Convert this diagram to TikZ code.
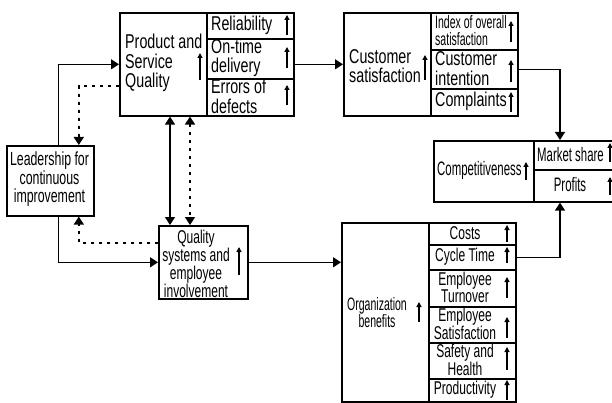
\documentclass[tikz,border=0pt]{standalone}
\usepackage{fontspec}
\setmainfont{Liberation Sans}[FakeStretch=0.715]
\newfontfamily\condA{Liberation Sans}[FakeStretch=0.65]
\newfontfamily\condB{Liberation Sans}[FakeStretch=0.585]
\usepackage{tikz}
\usetikzlibrary{arrows.meta}

\newcommand\bigtxt{\fontsize{20}{19.5}\selectfont}
\newcommand\midtxt{\condA\fontsize{19}{17.5}\selectfont}
\newcommand\qtxt{\condA\fontsize{18.5}{15}\selectfont}
\newcommand\coltxt{\condA\fontsize{18.5}{15.5}\selectfont}
\newcommand\cmptxt{\condB\fontsize{19.5}{17}\selectfont}
\newcommand\idxtxt{\condB\fontsize{18}{17}\selectfont}

\tikzset{
  box/.style={draw, line width=1.6pt, anchor=north west, inner sep=0pt},
  txt/.style={inner sep=0pt, align=left},
  ctxt/.style={inner sep=0pt, align=center},
  conn/.style={line width=1.3pt, -{Triangle[length=8pt,width=10pt]}},
  conntwo/.style={line width=1.3pt, {Triangle[length=8pt,width=10pt]}-{Triangle[length=8pt,width=10pt]}},
  dots/.style={line width=1.6pt, dash pattern=on 3pt off 5pt},
  uparr/.style={line width=1.3pt, -{Triangle[length=5pt,width=5pt]}}
}

\begin{document}
\begin{tikzpicture}[x=1pt,y=-1pt]

\useasboundingbox (0,0) rectangle (612,403);

% main boxes
\node[box, minimum width=174pt, minimum height=103pt] (psq) at (119,12) {};
\node[box, minimum width=174pt, minimum height=103pt] (cs) at (343,12) {};
\node[box, minimum width=181pt, minimum height=61pt] (cmp) at (433,140) {};
\node[box, minimum width=174pt, minimum height=179pt] (ob) at (341,222) {};
\node[box, minimum width=87pt, minimum height=70pt] (lcl) at (6,145) {};
\node[box, minimum width=89pt, minimum height=73pt] (qse) at (158,225) {};

% cells
\node[box, minimum width=87pt, minimum height=26pt] (rel) at (206,12) {};
\node[box, minimum width=87pt, minimum height=40pt] (otd) at (206,38) {};
\node[box, minimum width=87pt, minimum height=37pt] (eod) at (206,78) {};

\node[box, minimum width=87pt, minimum height=37pt] (iov) at (430,12) {};
\node[box, minimum width=87pt, minimum height=39pt] (ci) at (430,49) {};
\node[box, minimum width=87pt, minimum height=27pt] (cpl) at (430,88) {};

\node[box, minimum width=81pt, minimum height=29pt] (ms) at (533,140) {};
\node[box, minimum width=81pt, minimum height=32pt] (prf) at (533,169) {};

\node[box, minimum width=87pt, minimum height=22pt] (cst) at (428,222) {};
\node[box, minimum width=87pt, minimum height=25pt] (ct) at (428,244) {};
\node[box, minimum width=87pt, minimum height=37pt] (et) at (428,269) {};
\node[box, minimum width=87pt, minimum height=36pt] (es) at (428,306) {};
\node[box, minimum width=87pt, minimum height=36pt] (sh) at (428,342) {};
\node[box, minimum width=87pt, minimum height=23pt] (prd) at (428,378) {};

% texts
\node[txt, font=\bigtxt, anchor=west] (tpsq) at (125,63) {Product and\\Service\\Quality};
\node[txt, font=\bigtxt, anchor=west] (trel) at (211,25) {Reliability};
\node[txt, font=\bigtxt, anchor=west] (totd) at (211,58) {On-time\\delivery};
\node[txt, font=\bigtxt, anchor=west] (teod) at (211,96.5) {Errors of\\defects};

\node[txt, font=\bigtxt, anchor=west] (tcs) at (349,66) {Customer\\satisfaction};
\node[txt, font=\idxtxt, anchor=west] (tiov) at (435,30.5) {Index of overall\\satisfaction};
\node[txt, font=\bigtxt, anchor=west] (tci) at (435,68.5) {Customer\\intention};
\node[txt, font=\bigtxt, anchor=west] (tcpl) at (435,101.5) {Complaints};

\node[txt, font=\cmptxt, anchor=west] (tcmp) at (437,170) {Competitiveness};
\node[txt, font=\cmptxt, anchor=west] (tms) at (537,154.5) {Market share};
\node[ctxt, font=\cmptxt] (tprf) at (570,185) {Profits};

\node[ctxt, font=\midtxt] (tlcl) at (49.5,179) {Leadership for\\continuous\\improvement};
\node[ctxt, font=\qtxt] (tqse) at (196,264) {Quality\\systems and\\employee\\involvement};

\node[ctxt, font=\idxtxt] (tob) at (377,313) {Organization\\benefits};
\node[ctxt, font=\coltxt] (tcst) at (465,233) {Costs};
\node[ctxt, font=\coltxt] (tct) at (465,256.5) {Cycle Time};
\node[ctxt, font=\coltxt] (tet) at (465,287.5) {Employee\\Turnover};
\node[ctxt, font=\coltxt] (tes) at (465,324) {Employee\\Satisfaction};
\node[ctxt, font=\coltxt] (tsh) at (465,360) {Safety and\\Health};
\node[ctxt, font=\coltxt] (tprd) at (465,389.5) {Productivity};

% small up arrows
\foreach \x/\a/\b in {200/80/53, 287/35/15, 287/68/47, 287/105/85,
                      425/80/55, 511/42/21, 511/82/60, 511/112/92,
                      526/180/162, 610/162/143, 610/195/177,
                      239/275/247, 419/322/302,
                      507/242/225, 507/263/247, 507/298/277,
                      507/338/317, 507/370/347, 507/400/380}
    \draw[uparr] (\x,\a) -- (\x,\b);

% connectors
\coordinate (s1) at (170,0);
\coordinate (s2) at (190,0);
\coordinate (jct) at (560,0);

\draw[conn] ([xshift=8.5pt]lcl.north) |- (psq.west);
\draw[conn, dots] ([yshift=-21.5pt]psq.west) -| ([xshift=28.5pt]lcl.north);
\draw[conn] ([xshift=8.5pt]lcl.south) |- (qse.west);
\draw[conn, dots] ([yshift=19.5pt]qse.west) -| ([xshift=28.5pt]lcl.south);

\draw[conntwo] (s1 |- psq.south) -- (s1 |- qse.north);
\draw[conntwo, dots] (s2 |- psq.south) -- (s2 |- qse.north);

\draw[conn] (psq.east) -- (cs.west);
\draw[conn] (ci.east) -| (jct |- cmp.north);
\draw[conn] (ct.east) -| (jct |- cmp.south);
\draw[conn] (qse.east) -- (qse.east -| ob.west);

\end{tikzpicture}
\end{document}
